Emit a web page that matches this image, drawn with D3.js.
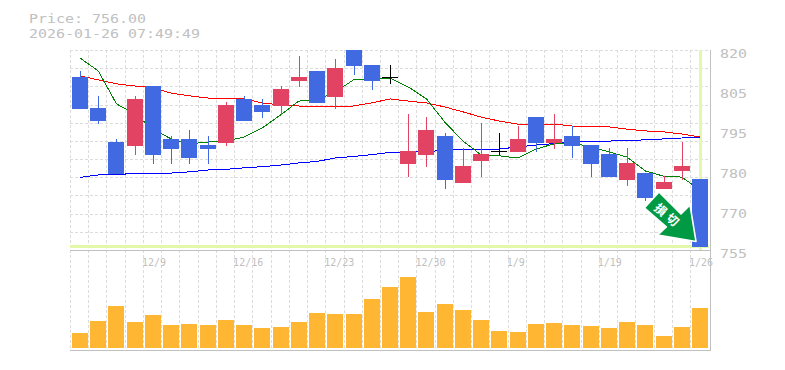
<!DOCTYPE html>
<html><head><meta charset="utf-8">
<style>html,body{margin:0;padding:0;background:#fff}svg{display:block}
text{font-family:"DejaVu Sans Mono",monospace;fill:#c0c0c0}</style>
<script src="https://cdn.jsdelivr.net/npm/d3@7"></script></head><body>
<script>
const title = ["Price: 756.00", "2026-01-26 07:49:49"];
const open_ = [811,801,790,789,808,791,791,789,790,804,802,802,810,813,805,820,815,811,783,786,792,777,784,787,787,798,790,792,789,786,778,780,775,781,778];
const close_= [801,797,780,804,786,788,785,788,802,797,800,807,811,803,814,815,810,811,787,794,778,782,786,787,791,790,791,789,783,779,783,772,777,782,756];
const high  = [813,805,791,805,808,792,794,792,803,805,804,808,818,813,817,820,815,815,799,798,793,788,796,793,795,798,799,795,789,788,788,780,779,790,778];
const low   = [801,796,780,786,783,783,783,783,789,797,798,799,808,803,801,812,807,809,779,782,775,777,779,786,787,787,788,785,779,779,776,771,775,778,756];
const volume= [15,27,42,26,33,23,24,23,28,23,20,21,26,35,34,34,49,61,71,36,44,38,28,17,16,24,25,23,22,20,26,23,12,21,40];
const maShort=[817.4,813.2,802.5,799.2,794.3,791.1,789.5,790.1,790.4,791.7,794.7,798.9,803.4,803.8,806.4,810.3,810.6,810.9,808,804.1,796.6,790.4,785.9,785.6,784.9,787.8,789.5,789.8,788.5,786.9,785.2,780.7,779,778.7,774.5];
const maMid  =[811.6,810.3,809,808.3,807.7,806,805.1,804.4,804.1,804.1,802.8,802.1,801.8,801.5,801.5,801.8,802.8,804.1,803.4,802.8,801.5,799.9,798.2,796.9,795.9,795.6,795.9,795.3,795,795,794.3,793.7,793.4,792.7,791.7];
const maLong =[778.6,779.4,779.4,780,780,780,780.4,781,781.2,781.7,782.1,782.6,783.3,783.8,784.9,785.4,786,786.7,786.9,786.9,787.5,787.8,787.8,787.8,788.5,789.1,789.6,790.3,790.4,790.4,790.6,790.8,791.1,791.4,791.7];
const dateIdx = [4,9,14,19,24,29,34];
const dateLabels = ["12/9","12/16","12/23","12/30","1/9","1/19","1/26"];
const priceTicks = [820,807,794,781,768,755];
const arrowLabel = ["損","切"];
const lastPrice = 756;

const W=785,H=370,L=70,R=710,T=50,B=250,VB=350;
const svg=d3.select("body").append("svg").attr("width",W).attr("height",H);
const x=d3.scaleLinear().domain([0,34]).range([80,700]);
const y=d3.scaleLinear().domain([755,820]).range([B,T]);
const yv=d3.scaleLinear().domain([0,100]).range([348,248]);
const px=v=>Math.floor(y(v));
const crisp=g=>g.attr("shape-rendering","crispEdges");

// grid
const grid=svg.append("g").call(crisp).attr("stroke","#dcdcdc").attr("stroke-dasharray","3 2").attr("fill","none");
const gy=d3.scaleLinear().domain([0,11]).range([T,B]);
d3.range(0,11).forEach(k=>grid.append("line").attr("x1",L).attr("x2",R).attr("y1",Math.round(gy(k))+.5).attr("y2",Math.round(gy(k))+.5));
d3.range(35).forEach(i=>{const gx=Math.round(x(i)-8)-2+.5;
  grid.append("line").attr("x1",gx).attr("x2",gx).attr("y1",T).attr("y2",VB);});

// highlight of last price / last date
const hl=svg.append("g").call(crisp).attr("stroke","#e4f8a9").attr("stroke-width",3);
hl.append("line").attr("x1",L).attr("x2",R-1).attr("y1",Math.floor(y(lastPrice))).attr("y2",Math.floor(y(lastPrice)));
hl.append("line").attr("x1",Math.round(x(34))+.5).attr("x2",Math.round(x(34))+.5).attr("y1",T).attr("y2",B);

// frame
const fr=svg.append("g").call(crisp).attr("stroke","#c0c0c0");
fr.append("line").attr("x1",L).attr("x2",R+1).attr("y1",B+.5).attr("y2",B+.5);
fr.append("line").attr("x1",L).attr("x2",R+1).attr("y1",VB+.5).attr("y2",VB+.5);
fr.append("line").attr("x1",R+.5).attr("x2",R+.5).attr("y1",T).attr("y2",VB);

// moving averages (aliased, one pixel)
const line=d3.line().x((d,i)=>x(i)).y(d=>y(d));
[[maMid,"#ff0000"],[maLong,"#0000ff"],[maShort,"#008000"]].forEach(([s,c])=>
  svg.append("path").attr("d",line(s)).attr("fill","none").attr("stroke",c).attr("stroke-width",1).attr("shape-rendering","crispEdges"));

// candles
const blue="#4169e1",red="#e24363";
const cg=svg.append("g").call(crisp);
open_.forEach((o,i)=>{
  const c=close_[i], col=c<o?blue:c>o?red:"#000", left=Math.round(x(i)-8), cx=left+8;
  cg.append("rect").attr("x",cx).attr("width",1).attr("y",px(high[i])).attr("height",px(low[i])-px(high[i])+1).attr("fill",col);
  const t=px(Math.max(o,c)), b=px(Math.min(o,c));
  cg.append("rect").attr("x",left).attr("width",16).attr("y",t).attr("height",b-t+1).attr("fill",col);
});

// volume
svg.append("g").call(crisp).selectAll("rect").data(volume).join("rect")
  .attr("x",(d,i)=>Math.round(x(i)-8)).attr("width",16)
  .attr("y",d=>yv(d)).attr("height",d=>yv(0)-yv(d)).attr("fill","#ffb733");

// axis labels
const ax=svg.append("g").attr("transform",`translate(${R},0)`)
  .call(d3.axisRight(y).tickValues(priceTicks).tickSize(0).tickPadding(0).tickFormat(v=>String(Math.round(v/5)*5)));
ax.select(".domain").remove();
ax.selectAll("text").attr("font-size",13).attr("font-family","DejaVu Sans Mono").attr("fill","#c0c0c0")
  .attr("x",0).attr("dy",null).attr("y",0).attr("dominant-baseline","auto")
  .attr("transform","translate(10,7) scale(1.15,1)");

dateLabels.forEach((t,k)=>svg.append("text").attr("x",x(dateIdx[k])-11).attr("y",266).attr("font-size",10).text(t));
title.forEach((t,k)=>svg.append("text").attr("transform",`translate(29,${23+k*15}) scale(1.15,1)`).attr("font-size",13).text(t));

// arrow, anchored on the last candle's close
const ag=svg.append("g").attr("transform",`translate(${x(34)},${y(lastPrice)})`);
ag.append("path").attr("d","M-41,-55 L-55.7,-39 L-33.7,-20 L-42.3,-12 L-4,-5.5 L-10,-42 L-19,-33 Z")
  .attr("fill","#009944").attr("stroke","#fff").attr("stroke-width",1.6).attr("stroke-linejoin","round");
arrowLabel.forEach((t,k)=>ag.append("text").attr("transform",`translate(${-39.3+k*12},${-37.2+k*10}) rotate(42)`)
  .attr("text-anchor","middle").attr("dy",".38em").attr("font-size",12).attr("font-weight",700)
  .attr("font-family","Noto Sans CJK JP").style("font-family","'Noto Sans CJK JP'").style("fill","#fff").text(t));
</script></body></html>
